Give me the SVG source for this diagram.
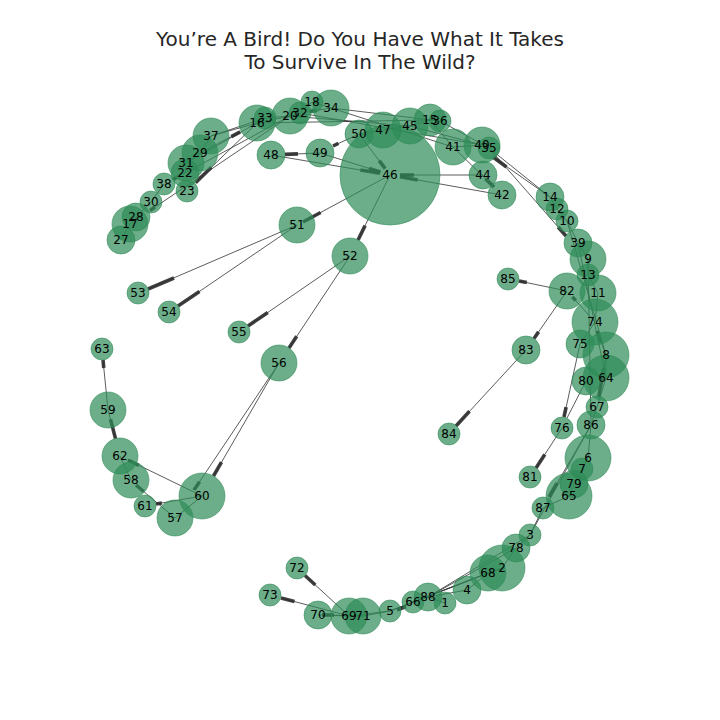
<svg xmlns="http://www.w3.org/2000/svg" width="720" height="720" viewBox="0 0 720 720">
<style>
.e{stroke:#333;stroke-width:1;stroke-opacity:0.8;fill:none}
.b{stroke:#2b2b2b;stroke-width:3.6;stroke-opacity:0.9}
.n circle{fill:#2e8b57;fill-opacity:0.7;stroke:#2e8b57;stroke-opacity:0.7;stroke-width:0.8}
.l text{font-family:"DejaVu Sans","Liberation Sans",sans-serif;font-size:12px;fill:#000;text-anchor:middle}
.t{font-family:"DejaVu Sans","Liberation Sans",sans-serif;font-size:20px;fill:#262626;text-anchor:middle}
</style>
<rect width="720" height="720" fill="#fff"/>
<text class="t" x="360" y="46">You’re A Bird! Do You Have What It Takes</text>
<text class="t" x="360" y="69">To Survive In The Wild?</text>
<g id="edges">
<line class="e" x1="349" y1="616" x2="363" y2="616"/>
<line class="e" x1="363" y1="616" x2="390" y2="611"/>
<line class="e" x1="349" y1="616" x2="390" y2="611"/>
<line class="e" x1="413" y1="602" x2="428" y2="597"/>
<line class="e" x1="428" y1="597" x2="445" y2="603"/>
<line class="e" x1="428" y1="597" x2="467" y2="590"/>
<line class="e" x1="467" y1="590" x2="488" y2="573"/>
<line class="e" x1="488" y1="573" x2="502" y2="568"/>
<line class="e" x1="502" y1="568" x2="516" y2="548"/>
<line class="e" x1="516" y1="548" x2="530" y2="535"/>
<line class="e" x1="530" y1="535" x2="543" y2="508"/>
<line class="e" x1="543" y1="508" x2="569" y2="496"/>
<line class="e" x1="390" y1="611" x2="488" y2="573"/>
<line class="e" x1="390" y1="611" x2="502" y2="568"/>
<line class="e" x1="428" y1="597" x2="516" y2="548"/>
<line class="e" x1="428" y1="597" x2="530" y2="535"/>
<line class="e" x1="413" y1="602" x2="488" y2="573"/>
<line class="e" x1="349" y1="616" x2="318" y2="615"/>
<line class="e" x1="569" y1="496" x2="574" y2="484"/>
<line class="e" x1="574" y1="484" x2="582" y2="469"/>
<line class="e" x1="582" y1="469" x2="588" y2="458"/>
<line class="e" x1="588" y1="458" x2="591" y2="425"/>
<line class="e" x1="591" y1="425" x2="597" y2="407"/>
<line class="e" x1="597" y1="407" x2="606" y2="378"/>
<line class="e" x1="606" y1="378" x2="606" y2="355"/>
<line class="e" x1="595" y1="322" x2="598" y2="293"/>
<line class="e" x1="598" y1="293" x2="588" y2="275"/>
<line class="e" x1="588" y1="275" x2="588" y2="259"/>
<line class="e" x1="588" y1="259" x2="578" y2="243"/>
<line class="e" x1="578" y1="243" x2="567" y2="221"/>
<line class="e" x1="567" y1="221" x2="557" y2="209"/>
<line class="e" x1="557" y1="209" x2="550" y2="197"/>
<line class="e" x1="530" y1="535" x2="591" y2="425"/>
<line class="e" x1="567" y1="221" x2="606" y2="355"/>
<line class="e" x1="578" y1="243" x2="606" y2="378"/>
<line class="e" x1="588" y1="259" x2="591" y2="425"/>
<line class="e" x1="595" y1="322" x2="580" y2="344"/>
<line class="e" x1="489" y1="148" x2="550" y2="197"/>
<line class="e" x1="482" y1="145" x2="489" y2="148"/>
<line class="e" x1="453" y1="147" x2="482" y2="145"/>
<line class="e" x1="430" y1="120" x2="453" y2="147"/>
<line class="e" x1="440" y1="121" x2="489" y2="148"/>
<line class="e" x1="410" y1="126" x2="482" y2="145"/>
<line class="e" x1="383" y1="130" x2="410" y2="126"/>
<line class="e" x1="359" y1="134" x2="383" y2="130"/>
<line class="e" x1="410" y1="126" x2="430" y2="120"/>
<line class="e" x1="430" y1="120" x2="440" y2="121"/>
<line class="e" x1="331" y1="108" x2="440" y2="121"/>
<line class="e" x1="290" y1="116" x2="410" y2="126"/>
<line class="e" x1="257" y1="123" x2="430" y2="120"/>
<line class="e" x1="300" y1="113" x2="482" y2="145"/>
<line class="e" x1="331" y1="108" x2="453" y2="147"/>
<line class="e" x1="257" y1="123" x2="290" y2="116"/>
<line class="e" x1="290" y1="116" x2="300" y2="113"/>
<line class="e" x1="300" y1="113" x2="312" y2="102"/>
<line class="e" x1="312" y1="102" x2="331" y2="108"/>
<line class="e" x1="265" y1="118" x2="290" y2="116"/>
<line class="e" x1="257" y1="123" x2="265" y2="118"/>
<line class="e" x1="257" y1="123" x2="211" y2="136"/>
<line class="e" x1="186" y1="163" x2="257" y2="123"/>
<line class="e" x1="185" y1="173" x2="290" y2="116"/>
<line class="e" x1="121" y1="240" x2="130" y2="224"/>
<line class="e" x1="130" y1="224" x2="136" y2="217"/>
<line class="e" x1="136" y1="217" x2="151" y2="202"/>
<line class="e" x1="151" y1="202" x2="164" y2="184"/>
<line class="e" x1="185" y1="173" x2="186" y2="163"/>
<line class="e" x1="186" y1="163" x2="200" y2="153"/>
<line class="e" x1="200" y1="153" x2="211" y2="136"/>
<line class="e" x1="211" y1="136" x2="265" y2="118"/>
<line class="e" x1="120" y1="456" x2="131" y2="480"/>
<line class="e" x1="202" y1="496" x2="175" y2="518"/>
<line class="e" x1="297" y1="225" x2="148" y2="289"/><line class="b" x1="174" y1="278" x2="148" y2="289"/>
<line class="e" x1="297" y1="225" x2="178" y2="306"/><line class="b" x1="199.5" y1="291.4" x2="178" y2="306"/>
<line class="e" x1="350" y1="256" x2="248" y2="326"/><line class="b" x1="267.8" y1="312.4" x2="248" y2="326"/>
<line class="e" x1="350" y1="256" x2="289" y2="348"/><line class="b" x1="296.7" y1="336.3" x2="289" y2="348"/>
<line class="e" x1="390" y1="175" x2="303" y2="222"/><line class="b" x1="320.6" y1="212.5" x2="303" y2="222"/>
<line class="e" x1="390" y1="175" x2="358" y2="240"/><line class="b" x1="365.1" y1="225.6" x2="358" y2="240"/>
<line class="e" x1="279" y1="363" x2="213.5" y2="476"/><line class="b" x1="221.5" y1="462.2" x2="213.5" y2="476"/>
<line class="e" x1="279" y1="363" x2="194" y2="490"/><line class="b" x1="199.6" y1="481.7" x2="194" y2="490"/>
<line class="e" x1="108" y1="410" x2="103" y2="360"/><line class="b" x1="103.8" y1="368" x2="103" y2="360"/>
<line class="e" x1="349" y1="616" x2="305" y2="575.5"/><line class="b" x1="315.3" y1="585" x2="305" y2="575.5"/>
<line class="e" x1="349" y1="616" x2="281" y2="598"/><line class="b" x1="294.5" y1="601.6" x2="281" y2="598"/>
<line class="e" x1="567" y1="291" x2="519" y2="281"/><line class="b" x1="526.8" y1="282.6" x2="519" y2="281"/>
<line class="e" x1="567" y1="291" x2="534" y2="338.5"/><line class="b" x1="538.6" y1="331.9" x2="534" y2="338.5"/>
<line class="e" x1="526" y1="350" x2="456" y2="426"/><line class="b" x1="469.5" y1="411.3" x2="456" y2="426"/>
<line class="e" x1="562" y1="428" x2="536" y2="468"/><line class="b" x1="544.8" y1="454.6" x2="536" y2="468"/>
<line class="e" x1="580" y1="344" x2="564" y2="417"/><line class="b" x1="566.1" y1="407.2" x2="564" y2="417"/>
<line class="e" x1="586" y1="381" x2="567" y2="418"/>
<line class="e" x1="202" y1="496" x2="156" y2="504"/><line class="b" x1="161.9" y1="503" x2="156" y2="504"/>
<line class="e" x1="108" y1="410" x2="115.5" y2="438.6"/><line class="b" x1="110.5" y1="419.2" x2="115.5" y2="438.6"/>
<line class="e" x1="175" y1="518" x2="136" y2="485"/><line class="b" x1="143.6" y1="491.5" x2="136" y2="485"/>
<line class="e" x1="202" y1="496" x2="128" y2="460"/><line class="b" x1="138.8" y1="465.3" x2="128" y2="460"/>
<line class="e" x1="320" y1="153" x2="285" y2="154.4"/><line class="b" x1="298" y1="153.9" x2="285" y2="154.4"/>
<line class="e" x1="359" y1="134" x2="333" y2="146"/><line class="b" x1="338.4" y1="143.4" x2="333" y2="146"/>
<line class="e" x1="271" y1="155" x2="380" y2="173.3"/><line class="b" x1="360.4" y1="170" x2="380" y2="173.3"/>
<line class="e" x1="320" y1="153" x2="380.5" y2="172"/><line class="b" x1="369" y1="168.4" x2="380.5" y2="172"/>
<line class="e" x1="359" y1="134" x2="385.2" y2="168.6"/><line class="b" x1="379.2" y1="160.6" x2="385.2" y2="168.6"/>
<line class="e" x1="483" y1="175" x2="400" y2="175"/><line class="b" x1="414" y1="175" x2="400" y2="175"/>
<line class="e" x1="502" y1="195" x2="400" y2="176.8"/><line class="b" x1="417.7" y1="180" x2="400" y2="176.8"/>
<line class="e" x1="453" y1="147" x2="494" y2="187"/><line class="b" x1="485.4" y1="178.6" x2="494" y2="187"/>
<line class="e" x1="550" y1="197" x2="493" y2="157"/><line class="b" x1="506.5" y1="167" x2="493" y2="157"/>
<line class="e" x1="489" y1="148" x2="566" y2="236"/><line class="b" x1="558.1" y1="227" x2="566" y2="236"/>
<line class="e" x1="331" y1="108" x2="308.9" y2="111.6"/><line class="b" x1="316.8" y1="110.3" x2="308.9" y2="111.6"/>
<line class="e" x1="200" y1="153" x2="240.2" y2="131.9"/><line class="b" x1="231.3" y1="136.6" x2="240.2" y2="131.9"/>
<line class="e" x1="257" y1="123" x2="195.6" y2="182.6"/><line class="b" x1="211.4" y1="167.3" x2="195.6" y2="182.6"/>
<line class="e" x1="185" y1="173" x2="172.9" y2="179.4"/><line class="b" x1="177.3" y1="177.1" x2="172.9" y2="179.4"/>
<line class="e" x1="290" y1="116" x2="150" y2="210.5"/><line class="b" x1="155" y1="207.1" x2="150" y2="210.5"/>
<line class="e" x1="606" y1="355" x2="597" y2="331"/><line class="b" x1="600.8" y1="342.4" x2="597" y2="331"/>
<line class="e" x1="606" y1="355" x2="598.7" y2="397.2"/><line class="b" x1="603.8" y1="367.6" x2="598.7" y2="397.2"/>
<line class="e" x1="595" y1="322" x2="572.4" y2="296.9"/><line class="b" x1="575.7" y1="300.6" x2="572.4" y2="296.9"/>
<line class="e" x1="591" y1="425" x2="549" y2="497"/><line class="b" x1="557" y1="483.1" x2="549" y2="497"/>
<line class="e" x1="413" y1="602" x2="397" y2="610"/><line class="b" x1="406" y1="606.5" x2="397" y2="610"/>
<line class="e" x1="363" y1="616" x2="322" y2="615"/><line class="b" x1="334" y1="615" x2="322" y2="615"/>
</g>
<g id="nodes" class="n">
<g id="n46"><circle cx="390" cy="175" r="50"/></g>
<g id="n1"><circle cx="445" cy="603" r="11"/></g>
<g id="n2"><circle cx="502" cy="568" r="23"/></g>
<g id="n3"><circle cx="530" cy="535" r="11"/></g>
<g id="n4"><circle cx="467" cy="590" r="14"/></g>
<g id="n5"><circle cx="390" cy="611" r="11"/></g>
<g id="n6"><circle cx="588" cy="458" r="23"/></g>
<g id="n7"><circle cx="582" cy="469" r="11"/></g>
<g id="n8"><circle cx="606" cy="355" r="23"/></g>
<g id="n9"><circle cx="588" cy="259" r="18"/></g>
<g id="n10"><circle cx="567" cy="221" r="11"/></g>
<g id="n11"><circle cx="598" cy="293" r="18"/></g>
<g id="n12"><circle cx="557" cy="209" r="11"/></g>
<g id="n13"><circle cx="588" cy="275" r="11"/></g>
<g id="n14"><circle cx="550" cy="197" r="14"/></g>
<g id="n15"><circle cx="430" cy="120" r="16"/></g>
<g id="n16"><circle cx="257" cy="123" r="18"/></g>
<g id="n17"><circle cx="130" cy="224" r="18"/></g>
<g id="n18"><circle cx="312" cy="102" r="11"/></g>
<g id="n20"><circle cx="290" cy="116" r="18"/></g>
<g id="n22"><circle cx="185" cy="173" r="14"/></g>
<g id="n23"><circle cx="187" cy="191" r="11"/></g>
<g id="n27"><circle cx="121" cy="240" r="14"/></g>
<g id="n28"><circle cx="136" cy="217" r="14"/></g>
<g id="n29"><circle cx="200" cy="153" r="18"/></g>
<g id="n30"><circle cx="151" cy="202" r="11"/></g>
<g id="n31"><circle cx="186" cy="163" r="18"/></g>
<g id="n32"><circle cx="300" cy="113" r="11"/></g>
<g id="n33"><circle cx="265" cy="118" r="11"/></g>
<g id="n34"><circle cx="331" cy="108" r="18"/></g>
<g id="n35"><circle cx="489" cy="148" r="11"/></g>
<g id="n36"><circle cx="440" cy="121" r="11"/></g>
<g id="n37"><circle cx="211" cy="136" r="18"/></g>
<g id="n38"><circle cx="164" cy="184" r="11"/></g>
<g id="n39"><circle cx="578" cy="243" r="14"/></g>
<g id="n40"><circle cx="482" cy="145" r="18"/></g>
<g id="n41"><circle cx="453" cy="147" r="18"/></g>
<g id="n42"><circle cx="502" cy="195" r="14"/></g>
<g id="n44"><circle cx="483" cy="175" r="14"/></g>
<g id="n45"><circle cx="410" cy="126" r="18"/></g>
<g id="n47"><circle cx="383" cy="130" r="18"/></g>
<g id="n48"><circle cx="271" cy="155" r="14"/></g>
<g id="n49"><circle cx="320" cy="153" r="14"/></g>
<g id="n50"><circle cx="359" cy="134" r="14"/></g>
<g id="n51"><circle cx="297" cy="225" r="18"/></g>
<g id="n52"><circle cx="350" cy="256" r="18"/></g>
<g id="n53"><circle cx="138" cy="293" r="11"/></g>
<g id="n54"><circle cx="169" cy="312" r="11"/></g>
<g id="n55"><circle cx="239" cy="332" r="11"/></g>
<g id="n56"><circle cx="279" cy="363" r="18"/></g>
<g id="n57"><circle cx="175" cy="518" r="18"/></g>
<g id="n58"><circle cx="131" cy="480" r="18"/></g>
<g id="n59"><circle cx="108" cy="410" r="18"/></g>
<g id="n60"><circle cx="202" cy="496" r="23"/></g>
<g id="n61"><circle cx="145" cy="506" r="11"/></g>
<g id="n62"><circle cx="120" cy="456" r="18"/></g>
<g id="n63"><circle cx="102" cy="349" r="11"/></g>
<g id="n64"><circle cx="606" cy="378" r="23"/></g>
<g id="n65"><circle cx="569" cy="496" r="23"/></g>
<g id="n66"><circle cx="413" cy="602" r="11"/></g>
<g id="n67"><circle cx="597" cy="407" r="11"/></g>
<g id="n68"><circle cx="488" cy="573" r="18"/></g>
<g id="n69"><circle cx="349" cy="616" r="18"/></g>
<g id="n70"><circle cx="318" cy="615" r="14"/></g>
<g id="n71"><circle cx="363" cy="616" r="18"/></g>
<g id="n72"><circle cx="297" cy="568" r="11"/></g>
<g id="n73"><circle cx="270" cy="595" r="11"/></g>
<g id="n74"><circle cx="595" cy="322" r="23"/></g>
<g id="n75"><circle cx="580" cy="344" r="14"/></g>
<g id="n76"><circle cx="562" cy="428" r="11"/></g>
<g id="n78"><circle cx="516" cy="548" r="14"/></g>
<g id="n79"><circle cx="574" cy="484" r="14"/></g>
<g id="n80"><circle cx="586" cy="381" r="14"/></g>
<g id="n81"><circle cx="530" cy="477" r="11"/></g>
<g id="n82"><circle cx="567" cy="291" r="18"/></g>
<g id="n83"><circle cx="526" cy="350" r="14"/></g>
<g id="n84"><circle cx="449" cy="434" r="11"/></g>
<g id="n85"><circle cx="508" cy="279" r="11"/></g>
<g id="n86"><circle cx="591" cy="425" r="14"/></g>
<g id="n87"><circle cx="543" cy="508" r="11"/></g>
<g id="n88"><circle cx="428" cy="597" r="14"/></g>
</g>
<g id="labels" class="l">
<text x="390" y="179">46</text>
<text x="445" y="607">1</text>
<text x="502" y="572">2</text>
<text x="530" y="539">3</text>
<text x="467" y="594">4</text>
<text x="390" y="615">5</text>
<text x="588" y="462">6</text>
<text x="582" y="473">7</text>
<text x="606" y="359">8</text>
<text x="588" y="263">9</text>
<text x="567" y="225">10</text>
<text x="598" y="297">11</text>
<text x="557" y="213">12</text>
<text x="588" y="279">13</text>
<text x="550" y="201">14</text>
<text x="430" y="124">15</text>
<text x="257" y="127">16</text>
<text x="130" y="228">17</text>
<text x="312" y="106">18</text>
<text x="290" y="120">20</text>
<text x="185" y="177">22</text>
<text x="187" y="195">23</text>
<text x="121" y="244">27</text>
<text x="136" y="221">28</text>
<text x="200" y="157">29</text>
<text x="151" y="206">30</text>
<text x="186" y="167">31</text>
<text x="300" y="117">32</text>
<text x="265" y="122">33</text>
<text x="331" y="112">34</text>
<text x="489" y="152">35</text>
<text x="440" y="125">36</text>
<text x="211" y="140">37</text>
<text x="164" y="188">38</text>
<text x="578" y="247">39</text>
<text x="482" y="149">40</text>
<text x="453" y="151">41</text>
<text x="502" y="199">42</text>
<text x="483" y="179">44</text>
<text x="410" y="130">45</text>
<text x="383" y="134">47</text>
<text x="271" y="159">48</text>
<text x="320" y="157">49</text>
<text x="359" y="138">50</text>
<text x="297" y="229">51</text>
<text x="350" y="260">52</text>
<text x="138" y="297">53</text>
<text x="169" y="316">54</text>
<text x="239" y="336">55</text>
<text x="279" y="367">56</text>
<text x="175" y="522">57</text>
<text x="131" y="484">58</text>
<text x="108" y="414">59</text>
<text x="202" y="500">60</text>
<text x="145" y="510">61</text>
<text x="120" y="460">62</text>
<text x="102" y="353">63</text>
<text x="606" y="382">64</text>
<text x="569" y="500">65</text>
<text x="413" y="606">66</text>
<text x="597" y="411">67</text>
<text x="488" y="577">68</text>
<text x="349" y="620">69</text>
<text x="318" y="619">70</text>
<text x="363" y="620">71</text>
<text x="297" y="572">72</text>
<text x="270" y="599">73</text>
<text x="595" y="326">74</text>
<text x="580" y="348">75</text>
<text x="562" y="432">76</text>
<text x="516" y="552">78</text>
<text x="574" y="488">79</text>
<text x="586" y="385">80</text>
<text x="530" y="481">81</text>
<text x="567" y="295">82</text>
<text x="526" y="354">83</text>
<text x="449" y="438">84</text>
<text x="508" y="283">85</text>
<text x="591" y="429">86</text>
<text x="543" y="512">87</text>
<text x="428" y="601">88</text>
</g>
</svg>
